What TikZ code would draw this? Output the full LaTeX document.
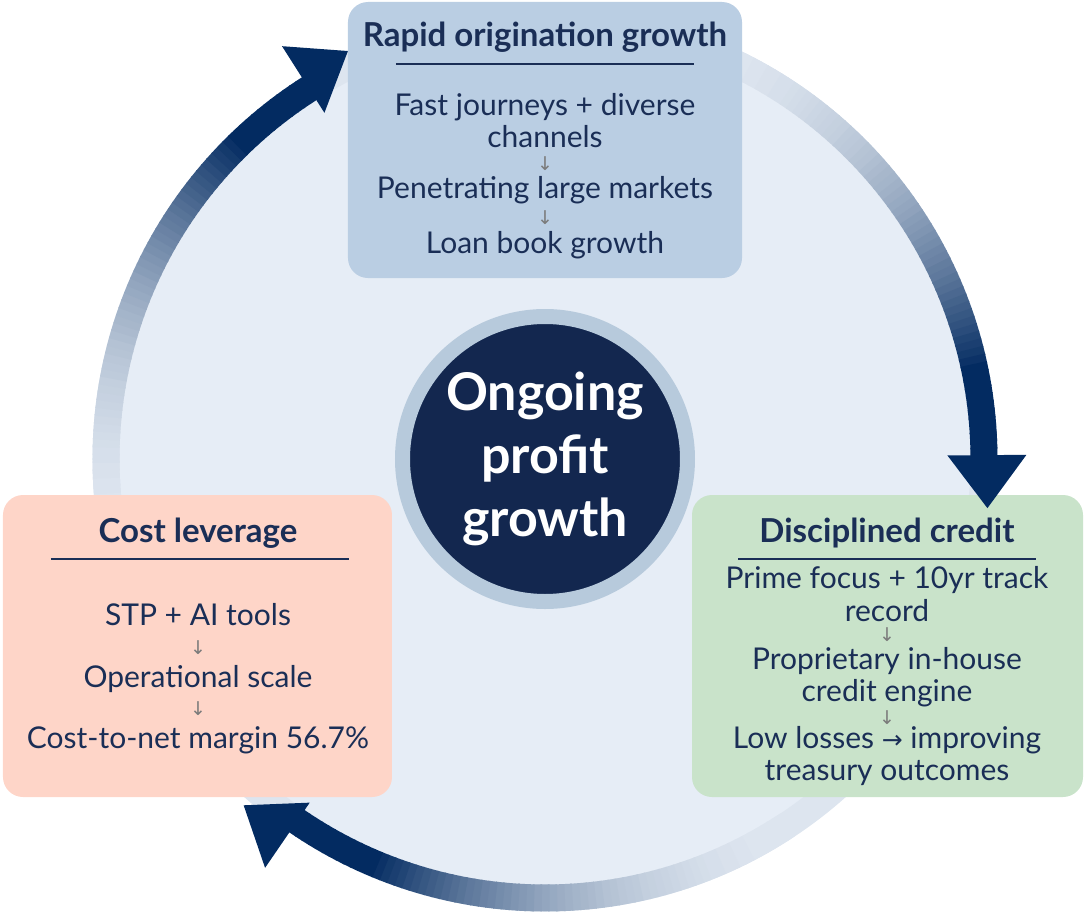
\documentclass[tikz,border=0pt]{standalone}
\usepackage{fontspec}
\setmainfont{Lato}
\newfontfamily\arrowfont{DejaVu Sans}
\usetikzlibrary{calc}

\definecolor{discfill}{HTML}{E6EDF6}
\definecolor{ringlight}{HTML}{DDE5EF}
\definecolor{arrowblue}{HTML}{032B61}
\definecolor{textblue}{HTML}{1A2E56}
\definecolor{hubring}{HTML}{B7CADC}
\definecolor{hubfill}{HTML}{13274F}
\definecolor{growthbox}{HTML}{BACEE3}
\definecolor{creditbox}{HTML}{C9E3CA}
\definecolor{costbox}{HTML}{FED5C8}
\definecolor{markgray}{HTML}{7B7B7B}

\begin{document}
\begin{tikzpicture}[
	x=1pt, y=1pt,
	panel/.style = {rounded corners=20pt, inner sep=0pt},
	panel title/.style = {anchor=base, font=\fontsize{33}{36}\selectfont\bfseries, text=textblue},
	panel text/.style = {anchor=base, font=\fontsize{30}{34}\selectfont, text=textblue},
	down mark/.style = {font=\arrowfont\fontsize{19}{19}\selectfont, text=markgray, inner sep=0pt,
		text height=9pt, text depth=0pt},
	panel rule/.style = {draw=textblue, line width=2pt},
	ring/.style = {line width=27pt}
]
\useasboundingbox (-545,-455) rectangle (539,459);

% disc and its rim
\fill[discfill] (0,0) circle[radius=452];
\draw[ring, ringlight] (0,0) circle[radius=439];

% shaded shafts, light to dark
\foreach \b in {122.5, 0.5, -124.4} {
	\foreach \k in {0,...,67} {
		\pgfmathsetmacro\t{min(1,\k/56)}
		\pgfmathtruncatemacro\p{100*\t*\t}
		\pgfmathsetmacro\a{\b+68-\k}
		\draw[ring, arrowblue!\p!ringlight] (\a:439) arc[start angle=\a, delta angle=-1.2, radius=439];
	}
}

% centre
\node[circle, fill=hubfill, draw=hubring, line width=15pt, minimum size=285pt, inner sep=0pt,
	align=center, text=white, font=\fontsize{52}{63}\selectfont\bfseries] (hub) at (0,0) {Ongoing\\profit\\growth};

% top panel
\node[panel, fill=growthbox, minimum width=394pt, minimum height=276pt] (growth) at (0,319) {};
\node[panel title] (growth-title) at (0,412) {Rapid origination growth};
\draw[panel rule] (-149,395) -- (149,395);
\foreach \y/\t [count=\i] in {344/Fast journeys + diverse, 312/channels, 261/Penetrating large markets, 206/Loan book growth}
	\node[panel text] (growth-line-\i) at (0,\y) {\t};
\foreach \y [count=\i] in {293, 239}
	\node[down mark] (growth-mark-\i) at (0,\y) {↓};

% right panel
\node[panel, fill=creditbox, minimum width=391pt, minimum height=302pt] (credit) at (342.5,-187) {};
\node[panel title] (credit-title) at (342,-83) {Disciplined credit};
\draw[panel rule] (193,-100) -- (491,-100);
\foreach \y/\t [count=\i] in {-129/Prime focus + 10yr track, -162/record, -210/Proprietary in-house, -242/credit engine,
		-289/{Low losses {\arrowfont\fontsize{25}{25}\selectfont→} improving}, -321/treasury outcomes}
	\node[panel text] (credit-line-\i) at (342,\y) {\t};
\foreach \y [count=\i] in {-178, -261}
	\node[down mark] (credit-mark-\i) at (342,\y) {↓};

% left panel
\node[panel, fill=costbox, minimum width=389pt, minimum height=302pt] (cost) at (-347.5,-187) {};
\node[panel title] (cost-title) at (-347,-83) {Cost leverage};
\draw[panel rule] (-494,-100) -- (-196,-100);
\foreach \y/\t [count=\i] in {-166/STP + AI tools, -228/Operational scale, -289/Cost-to-net margin 56.7\%}
	\node[panel text] (cost-line-\i) at (-347,\y) {\t};
\foreach \y [count=\i] in {-191, -252}
	\node[down mark] (cost-mark-\i) at (-347,\y) {↓};

% arrow heads
\foreach \b/\r in {122.5/450, 0.5/442, -124.4/456} {
	\pgfmathsetmacro\ro{\r+39.5}
	\pgfmathsetmacro\ri{\r-39.5}
	\pgfmathsetmacro\d{\b-90}
	\fill[arrowblue] (\b:\ro) -- (\b:\ri) -- ($(\b:\r)+(\d:53)$) -- cycle;
}

\end{tikzpicture}
\end{document}
